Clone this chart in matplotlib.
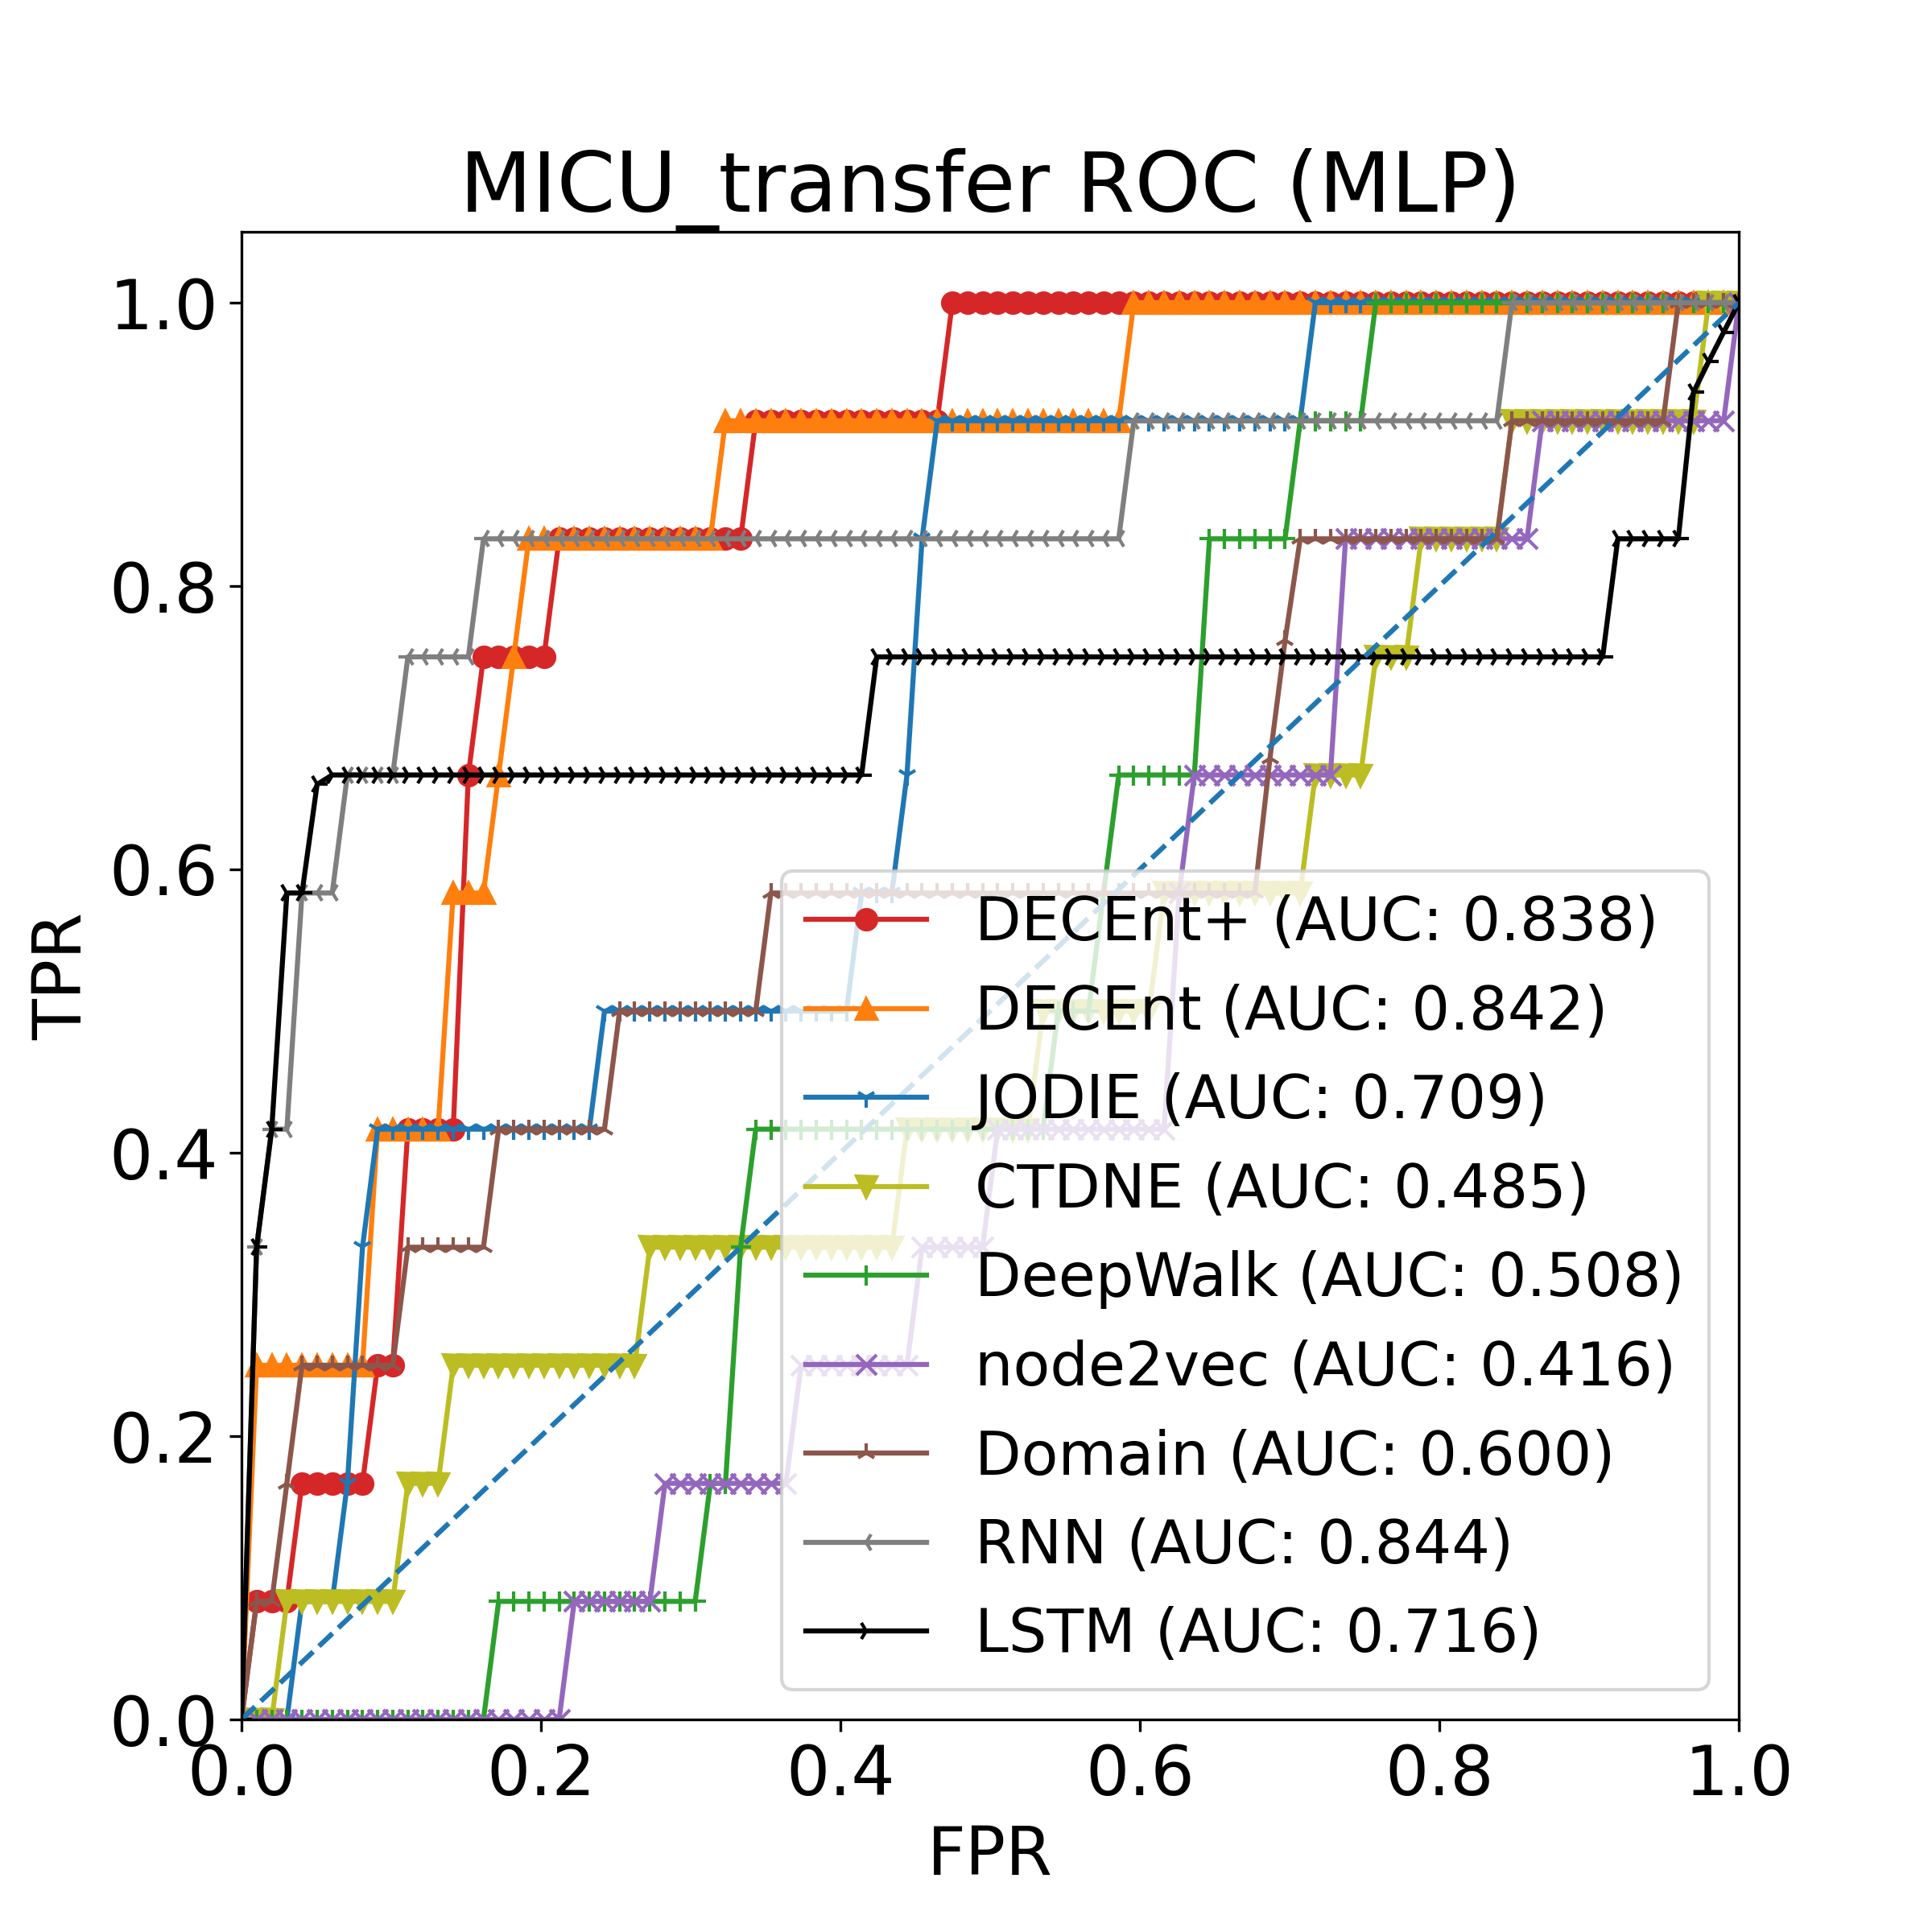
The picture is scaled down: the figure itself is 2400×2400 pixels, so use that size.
import numpy as np
import matplotlib
matplotlib.use('Agg')
import matplotlib.pyplot as plt

N_POS = 12  # positives in the test split, tpr levels are counted out of this

# roc curves were resampled on 100 evenly spaced fpr points
fpr_grid = np.linspace(0, 1, 100)

methods = ['DECEnt+', 'DECEnt', 'JODIE', 'CTDNE', 'DeepWalk', 'node2vec', 'Domain', 'RNN', 'LSTM']
aucs = [0.838, 0.842, 0.709, 0.485, 0.508, 0.416, 0.600, 0.844, 0.716]

# tpr level (positives found) and how many grid points stay at it
decent_plus_lvl = [0, 1, 2, 3, 5, 8, 9, 10, 11, 12]
decent_plus_run = [1, 3, 5, 2, 4, 1, 5, 13, 13, 53]

decent_lvl = [0, 3, 5, 7, 8, 9, 10, 11, 12]
decent_run = [1, 8, 5, 3, 1, 1, 13, 27, 41]

jodie_lvl = [0, 1, 2, 4, 5, 6, 7, 8, 10, 11, 12]
jodie_run = [4, 3, 1, 1, 15, 17, 3, 1, 1, 25, 29]

ctdne_lvl = [0, 1, 2, 3, 4, 5, 6, 7, 8, 9, 10, 11, 12]
ctdne_run = [3, 8, 3, 13, 17, 9, 8, 10, 4, 3, 6, 13, 3]

deepwalk_lvl = [0, 1, 2, 4, 5, 6, 7, 8, 10, 11, 12]
deepwalk_run = [17, 14, 2, 1, 20, 3, 1, 6, 6, 5, 25]

node2vec_lvl = [0, 1, 2, 3, 4, 5, 7, 8, 10, 11, 12]
node2vec_run = [22, 6, 9, 8, 5, 12, 1, 10, 13, 13, 1]

domain_lvl = [0, 1, 2, 3, 4, 5, 6, 7, 8.14, 9.14, 10, 11, 12]
domain_run = [1, 2, 1, 7, 6, 8, 10, 33, 1, 1, 14, 11, 5]

rnn_lvl = [0, 4, 5, 7, 8, 9, 10, 11, 12]
rnn_run = [1, 1, 2, 3, 4, 5, 43, 25, 16]

lstm_lvl = [0, 4, 5, 7, 7.92, 8, 9, 10, 11.24, 11.5, 11.75, 12]
lstm_run = [1, 1, 1, 2, 1, 36, 49, 5, 1, 1, 1, 1]

levels = [decent_plus_lvl, decent_lvl, jodie_lvl, ctdne_lvl, deepwalk_lvl,
          node2vec_lvl, domain_lvl, rnn_lvl, lstm_lvl]
runs = [decent_plus_run, decent_run, jodie_run, ctdne_run, deepwalk_run,
        node2vec_run, domain_run, rnn_run, lstm_run]

colors = ['tab:red', 'tab:orange', 'tab:blue', 'tab:olive', 'tab:green',
          'tab:purple', 'tab:brown', 'tab:gray', 'black']
markers = ['o', '^', '1', 'v', '+', 'x', '2', '3', '4']

plt.figure(figsize=(8, 8), dpi=300)

for name, auc, lvl, run, c, m in zip(methods, aucs, levels, runs, colors, markers):
    tpr = np.repeat(np.array(lvl) / N_POS, run)
    plt.plot(fpr_grid, tpr, color=c, marker=m, label=f'{name} (AUC: {auc:.3f})')

plt.plot([0, 1], [0, 1], '--', color='tab:blue')

plt.xlim(0, 1)
plt.ylim(0, 1.05)
plt.xticks(fontsize=20.5)
plt.yticks(fontsize=20.5)
plt.xlabel('FPR', fontsize=20)
plt.ylabel('TPR', fontsize=20)
plt.title('MICU_transfer ROC (MLP)', fontsize=25)
plt.legend(loc='lower right', fontsize=18)

plt.savefig('out.png', dpi=300)
